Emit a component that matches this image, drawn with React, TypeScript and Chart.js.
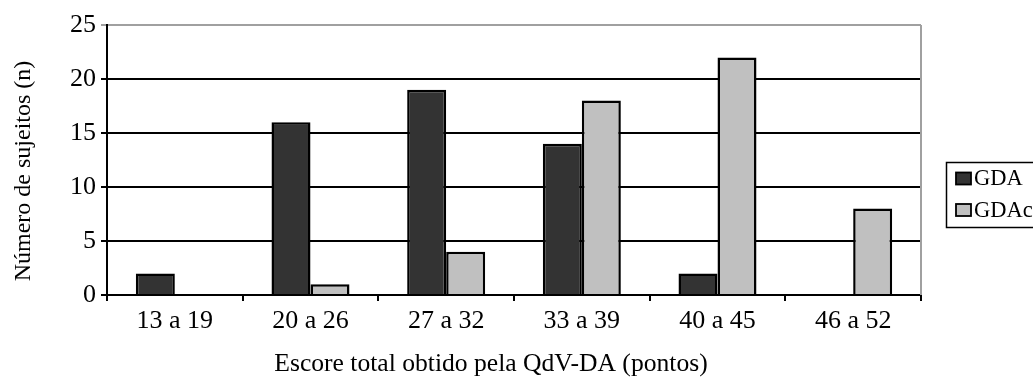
import React, { useEffect, useRef } from "react";
import { Chart, registerables } from "chart.js";

Chart.register(...registerables);

const categories = ["13 a 19", "20 a 26", "27 a 32", "33 a 39", "40 a 45", "46 a 52"];
const gdaValues = [2, 16, 19, 14, 2, 0];
const gdacValues = [0, 1, 4, 18, 22, 8];
const seriesNames = ["GDA", "GDAc"];
const seriesColors = ["#333333", "#c0c0c0"];
const yTitle = "Número de sujeitos (n)";
const xTitle = "Escore total obtido pela QdV-DA (pontos)";

const FONT = "'Liberation Serif', 'Times New Roman', serif";

// Axis titles, gray frame edge and boxed legend
const decorations = {
  id: "decorations",
  afterDraw(chart: any) {
    const { ctx, chartArea } = chart;
    ctx.save();
    // right frame edge
    ctx.strokeStyle = "#a0a0a0";
    ctx.lineWidth = 2;
    ctx.beginPath();
    ctx.moveTo(chartArea.right, chartArea.top);
    ctx.lineTo(chartArea.right, chartArea.bottom);
    ctx.stroke();

    // axis titles
    ctx.fillStyle = "#000";
    ctx.font = `25.6px ${FONT}`;
    ctx.textAlign = "center";
    ctx.textBaseline = "middle";
    ctx.fillText(xTitle, 491, 364);

    ctx.save();
    ctx.translate(24, 171);
    ctx.rotate(-Math.PI / 2);
    ctx.font = `24px ${FONT}`;
    ctx.fillText(yTitle, 0, 0);
    ctx.restore();

    // legend
    const lx = 946.5;
    const ly = 162.5;
    ctx.fillStyle = "#fff";
    ctx.fillRect(lx, ly, 100, 65);
    ctx.strokeStyle = "#000";
    ctx.lineWidth = 1.5;
    ctx.strokeRect(lx, ly, 100, 65);
    ctx.font = `22.5px ${FONT}`;
    ctx.textAlign = "left";
    ctx.textBaseline = "middle";
    const rows = [178.5, 210];
    seriesNames.forEach((name, i) => {
      const cy = rows[i];
      ctx.fillStyle = seriesColors[i];
      ctx.fillRect(956, cy - 6, 15, 12);
      ctx.strokeStyle = "#000";
      ctx.lineWidth = 1.8;
      ctx.strokeRect(956, cy - 6, 15, 12);
      ctx.fillStyle = "#000";
      ctx.fillText(name, 974, cy + 1);
    });
    ctx.restore();
  },
};

export default function App() {
  const canvasRef = useRef<HTMLCanvasElement | null>(null);

  useEffect(() => {
    if (!canvasRef.current) return;
    const chart = new Chart(canvasRef.current, {
      type: "bar",
      data: {
        labels: categories,
        datasets: [
          {
            label: seriesNames[0],
            data: gdaValues,
            backgroundColor: seriesColors[0],
            borderColor: "#000",
            borderWidth: 2.5,
          },
          {
            label: seriesNames[1],
            data: gdacValues,
            backgroundColor: seriesColors[1],
            borderColor: "#000",
            borderWidth: 2.5,
          },
        ],
      },
      options: {
        responsive: false,
        animation: false,
        layout: { padding: { top: 25, right: 112, left: 0, bottom: 0 } },
        datasets: { bar: { categoryPercentage: 0.575, barPercentage: 1.0 } },
        plugins: {
          legend: { display: false },
          tooltip: { enabled: false },
        },
        scales: {
          x: {
            offset: true,
            grid: {
              offset: true,
              drawOnChartArea: false,
              drawTicks: true,
              tickLength: 6,
              color: "#000",
              lineWidth: 2,
            },
            border: { color: "#000", width: 2 },
            ticks: {
              color: "#000",
              padding: 5,
              font: { family: FONT, size: 26 },
            },
            afterFit: (scale: any) => {
              scale.height = 85;
            },
          },
          y: {
            min: 0,
            max: 25,
            ticks: {
              stepSize: 5,
              color: "#000",
              padding: 5,
              font: { family: FONT, size: 26 },
            },
            grid: {
              color: (ctx: any) => (ctx.tick && ctx.tick.value === 25 ? "#a0a0a0" : "#000"),
              lineWidth: 2,
              tickLength: 6,
              drawTicks: true,
            },
            border: { color: "#000", width: 2 },
            afterFit: (scale: any) => {
              scale.width = 107;
            },
          },
        },
      },
      plugins: [decorations],
    });
    return () => chart.destroy();
  }, []);

  return (
    <div style={{ position: "absolute", left: 0, top: 0, width: 1033, height: 380, background: "#fff" }}>
      <canvas ref={canvasRef} width={1033} height={380} style={{ display: "block" }} />
    </div>
  );
}
